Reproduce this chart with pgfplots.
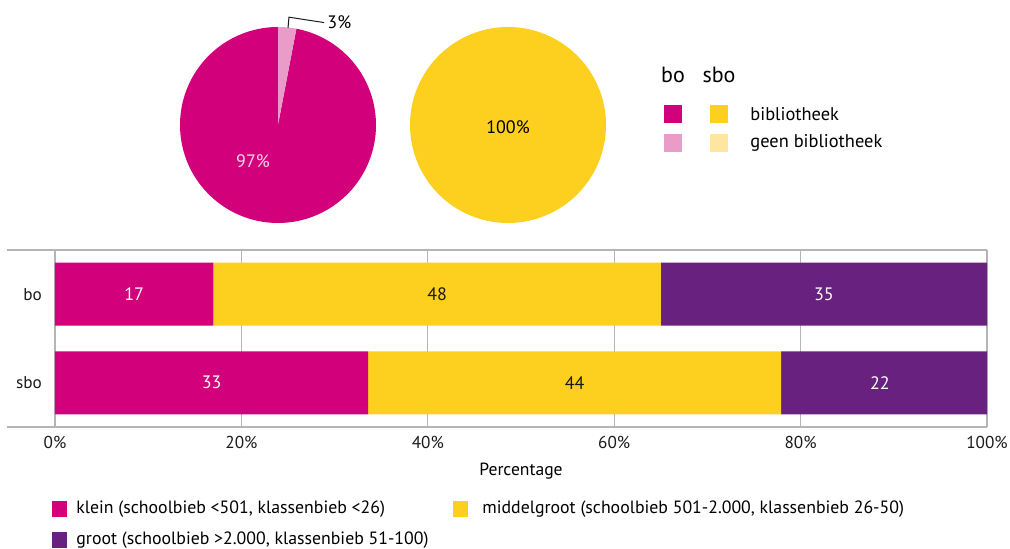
\documentclass[border=0pt]{standalone}
\usepackage{fontspec}
\setmainfont{PT Sans}
\usepackage{pgfplots}
\pgfplotsset{compat=1.18}

\definecolor{mag}{HTML}{D2007A}
\definecolor{magl}{HTML}{E99CC7}
\definecolor{yel}{HTML}{FDCF1F}
\definecolor{yell}{HTML}{FEE5A0}
\definecolor{pur}{HTML}{69217F}
\definecolor{txt}{HTML}{1A1A1A}
\definecolor{gridc}{HTML}{B5B5B5}

\pgfplotsset{
  pie/.style={scale only axis, width=98pt, height=98pt,
    xmin=-1, xmax=1, ymin=-1, ymax=1, hide axis, clip=false},
}

\begin{document}
\begin{tikzpicture}[font=\color{txt}]
\path[use as bounding box] (0,0) rectangle (505pt,-274.5pt);

% pie bo: 97 bibliotheek, 3 geen
\pgfmathsetmacro{\cut}{90-3*3.6}
\begin{axis}[pie, at={(90pt,-111.5pt)}, anchor=south west]
\addplot[fill=mag, draw=none, domain=-270:\cut, samples=180] ({cos(x)},{sin(x)}) -- (axis cs:0,0) -- cycle;
\addplot[fill=magl, draw=none, domain=\cut:90, samples=20] ({cos(x)},{sin(x)}) -- (axis cs:0,0) -- cycle;
\node[font=\fontsize{9}{11}\selectfont, text=magl!40!white] at (axis cs:-0.255,-0.367) {97\%};
\draw[txt, line width=0.5pt] (axis cs:0.102,0.99) -- (axis cs:0.112,1.10) -- (axis cs:0.47,1.045);
\node[anchor=west, inner sep=1pt, font=\fontsize{9}{11}\selectfont] at (axis cs:0.48,1.05) {3\%};
\end{axis}

% pie sbo: 100 bibliotheek
\begin{axis}[pie, at={(205pt,-111.5pt)}, anchor=south west]
\addplot[fill=yel, draw=none, domain=-270:90, samples=180] ({cos(x)},{sin(x)}) -- (axis cs:0,0) -- cycle;
\node[font=\fontsize{9}{11}\selectfont] at (axis cs:0,-0.02) {100\%};
\end{axis}

% stacked bars
\begin{axis}[
  at={(27.5pt,-213.5pt)}, anchor=south west,
  scale only axis, width=466pt, height=88.5pt,
  xbar stacked, bar width=31.5pt,
  xmin=0, xmax=100, ymin=-0.5, ymax=1.5,
  ytick={0,1}, yticklabels={sbo,bo},
  xtick={0,20,...,100},
  xticklabel={\pgfmathprintnumber{\tick}\%},
  /pgf/number format/assume math mode=true,
  ticklabel style={font=\fontsize{8.6}{10}\selectfont, text=txt},
  yticklabel style={xshift=-3pt},
  xticklabel style={yshift=-1pt},
  xmajorgrids, grid style={gridc, line width=0.6pt},
  axis line style={draw=none}, major tick length=0pt,
  xlabel={Percentage},
  xlabel style={font=\fontsize{8.8}{10}\selectfont, yshift=-0.5pt},
  clip=false,
]
\addplot[fill=mag, draw=none] coordinates {(17,1) (33.6,0)};
\addplot[fill=yel, draw=none] coordinates {(48,1) (44.3,0)};
\addplot[fill=pur, draw=none] coordinates {(35,1) (22.1,0)};
\draw[gridc, line width=0.6pt] ([xshift=-24pt]rel axis cs:0,1) -- (rel axis cs:1,1);
\draw[gridc, line width=0.6pt] ([xshift=-24pt]rel axis cs:0,0) -- (rel axis cs:1,0);
\end{axis}

% value labels, centred in each segment
\begin{axis}[
  at={(27.5pt,-213.5pt)}, anchor=south west,
  scale only axis, width=466pt, height=88.5pt,
  xmin=0, xmax=100, ymin=-0.5, ymax=1.5, hide axis,
  nodes near coords, point meta=explicit symbolic,
  every node near coord/.append style={anchor=center, font=\fontsize{9}{11}\selectfont},
]
\addplot[only marks, mark=none, nodes near coords style={text=white}] coordinates {(8.5,1) [17] (82.5,1) [35] (16.8,0) [33] (88.5,0) [22]};
\addplot[only marks, mark=none, nodes near coords style={text=txt}] coordinates {(41,1) [48] (55.75,0) [44]};
\end{axis}

\begin{scope}[x=0.5pt, y=-0.5pt]
% top legend
\node[font=\fontsize{11}{13}\selectfont] at (673,75) {bo};
\node[font=\fontsize{11}{13}\selectfont] at (719,75) {sbo};
\fill[mag] (664,105) rectangle (682,123);
\fill[yel] (710,105) rectangle (728,123);
\fill[magl] (664,134) rectangle (682,152);
\fill[yell] (710,134) rectangle (728,152);
\node[anchor=west, inner sep=0pt, font=\fontsize{9.2}{11}\selectfont] at (750,114) {bibliotheek};
\node[anchor=west, inner sep=0pt, font=\fontsize{9.2}{11}\selectfont] at (750,143) {geen bibliotheek};
% bottom legend
\fill[mag] (52,501) rectangle (67,517);
\fill[yel] (453,501) rectangle (468,517);
\fill[pur] (52,532) rectangle (67,548);
\node[anchor=west, inner sep=0pt, font=\fontsize{8.9}{10}\selectfont] at (76,509) {klein (schoolbieb <501, klassenbieb <26)};
\node[anchor=west, inner sep=0pt, font=\fontsize{8.9}{10}\selectfont] at (482,509) {middelgroot (schoolbieb 501-2.000, klassenbieb 26-50)};
\node[anchor=west, inner sep=0pt, font=\fontsize{8.9}{10}\selectfont] at (76,540) {groot (schoolbieb >2.000, klassenbieb 51-100)};
\end{scope}
\end{tikzpicture}
\end{document}
